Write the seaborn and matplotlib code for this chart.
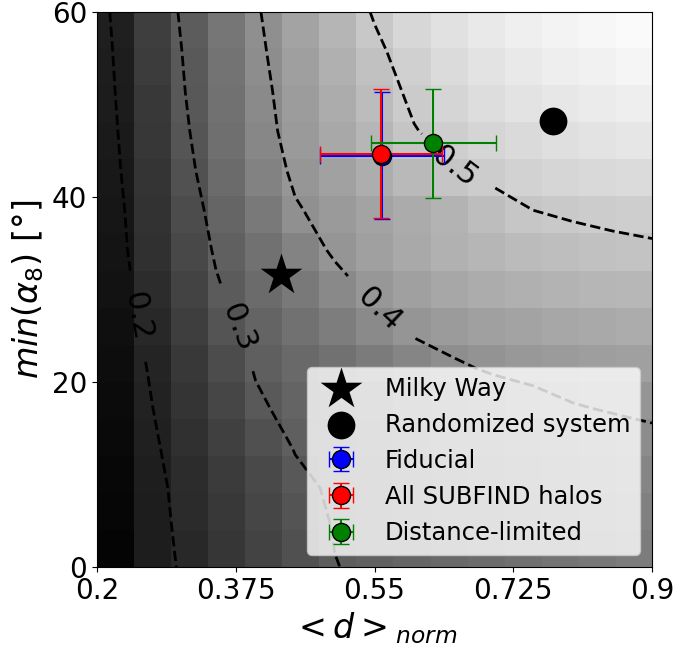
import numpy as np
import matplotlib
matplotlib.use("Agg")
import matplotlib.pyplot as plt
import seaborn as sns

# grid of the statistic, rows go from min(alpha_8)=0 up to 60 deg,
# columns from <d>_norm = 0.2 to 0.9
d_norm_range = [0.2, 0.9]
alpha_range = [0, 60]
fraction_grid = [
    [0.129, 0.176, 0.200, 0.224, 0.249, 0.275, 0.299, 0.307, 0.314, 0.321, 0.328, 0.336, 0.343, 0.351, 0.358],
    [0.132, 0.177, 0.203, 0.229, 0.255, 0.281, 0.302, 0.310, 0.318, 0.326, 0.334, 0.341, 0.349, 0.357, 0.365],
    [0.135, 0.178, 0.206, 0.234, 0.262, 0.290, 0.306, 0.315, 0.324, 0.333, 0.341, 0.349, 0.357, 0.366, 0.375],
    [0.139, 0.182, 0.212, 0.243, 0.274, 0.302, 0.313, 0.324, 0.334, 0.344, 0.353, 0.362, 0.370, 0.379, 0.388],
    [0.142, 0.186, 0.220, 0.254, 0.293, 0.312, 0.321, 0.334, 0.347, 0.359, 0.372, 0.384, 0.397, 0.403, 0.407],
    [0.146, 0.190, 0.229, 0.267, 0.303, 0.321, 0.339, 0.357, 0.375, 0.393, 0.405, 0.412, 0.418, 0.423, 0.428],
    [0.150, 0.197, 0.239, 0.281, 0.313, 0.337, 0.361, 0.385, 0.407, 0.418, 0.427, 0.434, 0.440, 0.445, 0.450],
    [0.155, 0.205, 0.250, 0.295, 0.325, 0.354, 0.383, 0.410, 0.427, 0.440, 0.450, 0.458, 0.464, 0.469, 0.472],
    [0.160, 0.212, 0.259, 0.305, 0.339, 0.374, 0.407, 0.428, 0.445, 0.459, 0.470, 0.479, 0.485, 0.490, 0.494],
    [0.163, 0.216, 0.267, 0.314, 0.355, 0.396, 0.415, 0.432, 0.449, 0.466, 0.483, 0.500, 0.506, 0.511, 0.515],
    [0.167, 0.222, 0.276, 0.325, 0.370, 0.408, 0.430, 0.453, 0.475, 0.498, 0.512, 0.522, 0.530, 0.536, 0.540],
    [0.170, 0.227, 0.283, 0.333, 0.380, 0.416, 0.443, 0.470, 0.498, 0.515, 0.528, 0.539, 0.548, 0.556, 0.562],
    [0.174, 0.231, 0.289, 0.338, 0.385, 0.420, 0.450, 0.480, 0.509, 0.529, 0.544, 0.555, 0.564, 0.571, 0.577],
    [0.177, 0.235, 0.293, 0.342, 0.390, 0.426, 0.458, 0.491, 0.520, 0.541, 0.556, 0.567, 0.576, 0.583, 0.589],
    [0.181, 0.240, 0.298, 0.347, 0.395, 0.432, 0.468, 0.504, 0.532, 0.552, 0.567, 0.578, 0.587, 0.594, 0.600],
]
levels = [0.2, 0.3, 0.4, 0.5]

# single points
mw_d = [0.432]
mw_alpha = [31.6]
rand_d = [0.775]
rand_alpha = [48.2]

# simulation samples: <d>_norm, err, min(alpha_8), err
fid = [0.559, 0.078, 44.45, 6.85]
subfind = [0.558, 0.077, 44.7, 7.0]
dist_lim = [0.624, 0.079, 45.8, 5.9]

xticks = [0.2, 0.375, 0.55, 0.725, 0.9]
xticklabels = ["0.2", "0.375", "0.55", "0.725", "0.9"]
yticks = [0, 20, 40, 60]

fig, ax = plt.subplots(figsize=(6.78, 6.47), dpi=100)
fig.subplots_adjust(left=0.1431, right=0.9617, top=0.9815, bottom=0.1236)

Z = np.array(fraction_grid)
ext = d_norm_range + alpha_range
ax.imshow(Z, origin="lower", extent=ext, aspect="auto", cmap="gray",
          vmin=0.12, vmax=0.61, interpolation="nearest", zorder=0)
cs = ax.contour(Z, levels=levels, extent=ext, colors="k",
                linestyles="dashed", linewidths=2, zorder=2)
ax.clabel(cs, fmt="%1.1f", fontsize=22, inline_spacing=22,
          manual=[(0.257, 27.2), (0.378, 25.9), (0.554, 27.6), (0.652, 43.4)])

sns.scatterplot(x=mw_d, y=mw_alpha, marker="*", s=1000, color="black",
                linewidth=0, ax=ax, label="Milky Way", zorder=3)
sns.scatterplot(x=rand_d, y=rand_alpha, marker="o", s=400, color="black",
                linewidth=0, ax=ax, label="Randomized system", zorder=3)

for vals, col, lab in [(fid, "blue", "Fiducial"),
                       (subfind, "red", "All SUBFIND halos"),
                       (dist_lim, "green", "Distance-limited")]:
    ax.errorbar(vals[0], vals[2], xerr=vals[1], yerr=vals[3], fmt="o",
                color=col, mec="k", ms=13, capsize=6,
                label=lab, zorder=4)

ax.set_xlim(d_norm_range)
ax.set_ylim(alpha_range)
ax.set_xticks(xticks)
ax.set_xticklabels(xticklabels)
ax.set_yticks(yticks)
ax.tick_params(labelsize=20)
ax.set_xlabel(r"$<d>_{norm}$", fontsize=24)
ax.set_ylabel(r"$min(\alpha_8)$ [°]", fontsize=24)

h, l = ax.get_legend_handles_labels()
order = ["Milky Way", "Randomized system", "Fiducial", "All SUBFIND halos", "Distance-limited"]
hl = dict(zip(l, h))
ax.legend([hl[k] for k in order], order, loc="lower right", fontsize=17.5,
          labelspacing=0.5)

fig.savefig("out.png", dpi=100)
